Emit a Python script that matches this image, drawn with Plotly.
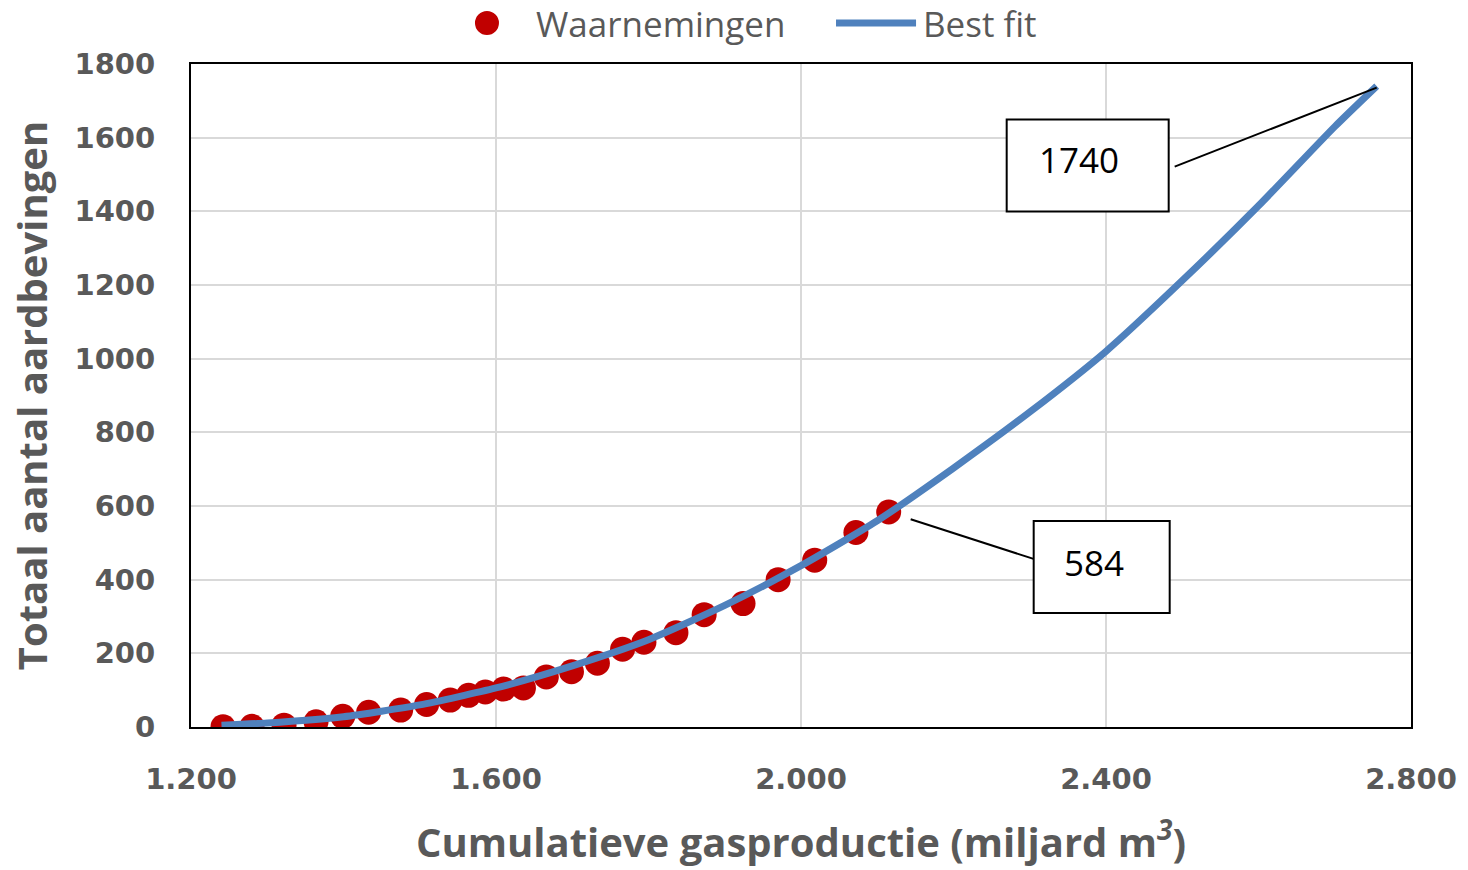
import plotly.graph_objects as go

# Observed cumulative gas production (miljard m3) vs total number of earthquakes
obs_x = [1242, 1280, 1322, 1364, 1399, 1433, 1475, 1509, 1540, 1564, 1586, 1610, 1636,
         1666, 1699, 1733, 1766, 1794, 1836, 1873, 1924, 1970, 2018, 2072, 2115]
obs_y = [1, 2, 5, 14, 29, 40, 46, 61, 73, 86, 95, 103, 106,
         136, 150, 173, 211, 230, 256, 305, 335, 400, 453, 528, 584]

# Best-fit curve, sampled along its length
fit_x = [1240, 1300, 1400, 1500, 1600, 1700, 1800, 1900, 2000, 2100, 2200,
         2300, 2400, 2500, 2600, 2700, 2755]
fit_y = [5, 11, 28, 60, 106, 166, 237, 330, 438, 560, 703,
         855, 1020, 1212, 1415, 1630, 1740]

x_ticks = [1200, 1600, 2000, 2400, 2800]
y_ticks = [0, 200, 400, 600, 800, 1000, 1200, 1400, 1600, 1800]

RED = "#c00000"
BLUE = "rgb(79,129,189)"
GREY = "#595959"
GRID = "#d9d9d9"

fig = go.Figure()
fig.add_trace(go.Scatter(
    x=obs_x, y=obs_y, mode="markers", name="Waarnemingen",
    marker=dict(color=RED, size=25, line=dict(width=0)),
    showlegend=False,
))
fig.add_trace(go.Scatter(
    x=fit_x, y=fit_y, mode="lines", name="Best fit",
    line=dict(color=BLUE, width=7, shape="spline", smoothing=0.6),
    showlegend=False,
))

tick_font = dict(family="DejaVu Sans", size=29, color=GREY, weight="bold")
title_font = dict(family="Open Sans", size=40, color=GREY, weight="bold")

fig.update_xaxes(
    range=[x_ticks[0], x_ticks[-1]], tickvals=x_ticks, tickformat=",.0f",
    showgrid=True, gridcolor=GRID, gridwidth=2,
    showline=True, linecolor="black", linewidth=2, mirror=True,
    ticks="outside", ticklen=25, tickcolor="rgba(0,0,0,0)",
    tickfont=tick_font, zeroline=False,
    title=dict(text="Cumulatieve gasproductie (miljard m<sup><i>3</i></sup>)",
               font=title_font, standoff=34),
)
fig.update_yaxes(
    range=[y_ticks[0], y_ticks[-1]], tickvals=y_ticks,
    showgrid=True, gridcolor=GRID, gridwidth=2,
    showline=True, linecolor="black", linewidth=2, mirror=True,
    ticks="outside", ticklen=28, tickcolor="rgba(0,0,0,0)",
    tickfont=tick_font, zeroline=False,
    title=dict(text="Totaal aantal aardbevingen", font=title_font, standoff=14),
)

shapes = []
annotations = []

# Legend drawn along the top edge
leg_y = 1.0618
shapes.append(dict(type="circle", xref="paper", yref="paper",
                   xsizemode="pixel", ysizemode="pixel",
                   xanchor=0.2426, yanchor=leg_y, x0=-12, x1=12, y0=-12, y1=12,
                   fillcolor=RED, line=dict(width=0)))
annotations.append(dict(xref="paper", yref="paper", x=0.2810, y=leg_y,
                        xanchor="left", yanchor="middle", showarrow=False,
                        text="Waarnemingen",
                        font=dict(family="Open Sans", size=35, color=GREY)))
shapes.append(dict(type="line", xref="paper", yref="paper",
                   x0=0.5287, x1=0.5943, y0=leg_y, y1=leg_y,
                   line=dict(color=BLUE, width=7)))
annotations.append(dict(xref="paper", yref="paper", x=0.5985, y=leg_y,
                        xanchor="left", yanchor="middle", showarrow=False,
                        text="Best fit",
                        font=dict(family="Open Sans", size=35, color=GREY)))


def callout(px, py, label, line_off, box_off, text_off):
    """Boxed value label with a leader line, placed in pixels around (px, py)."""
    (lx0, ly0), (lx1, ly1) = line_off
    (bx0, by0), (bx1, by1) = box_off
    shapes.append(dict(type="line", xref="x", yref="y",
                       xsizemode="pixel", ysizemode="pixel",
                       xanchor=px, yanchor=py,
                       x0=lx0, y0=-ly0, x1=lx1, y1=-ly1,
                       line=dict(color="black", width=2)))
    shapes.append(dict(type="rect", xref="x", yref="y",
                       xsizemode="pixel", ysizemode="pixel",
                       xanchor=px, yanchor=py,
                       x0=bx0, y0=-by0, x1=bx1, y1=-by1,
                       fillcolor="white", line=dict(color="black", width=2)))
    annotations.append(dict(xref="x", yref="y", x=px, y=py,
                            xshift=text_off[0], yshift=-text_off[1],
                            showarrow=False, text=label,
                            font=dict(family="Open Sans", size=35, color="black")))


callout(fit_x[-1], fit_y[-1], str(fit_y[-1]),
        ((0, 1.5), (-202, 80.5)), ((-370, 33.5), (-208, 125.5)), (-298, 73.5))
callout(obs_x[-1], obs_y[-1], str(obs_y[-1]),
        ((22, 7.4), (148, 48)), ((145, 9), (281, 101)), (205, 51))

fig.update_layout(
    width=1468, height=870,
    margin=dict(l=191, r=57, t=64, b=143),
    paper_bgcolor="white", plot_bgcolor="white",
    separators=",.",
    shapes=shapes, annotations=annotations,
    showlegend=False,
)

fig.write_html("out.html")
